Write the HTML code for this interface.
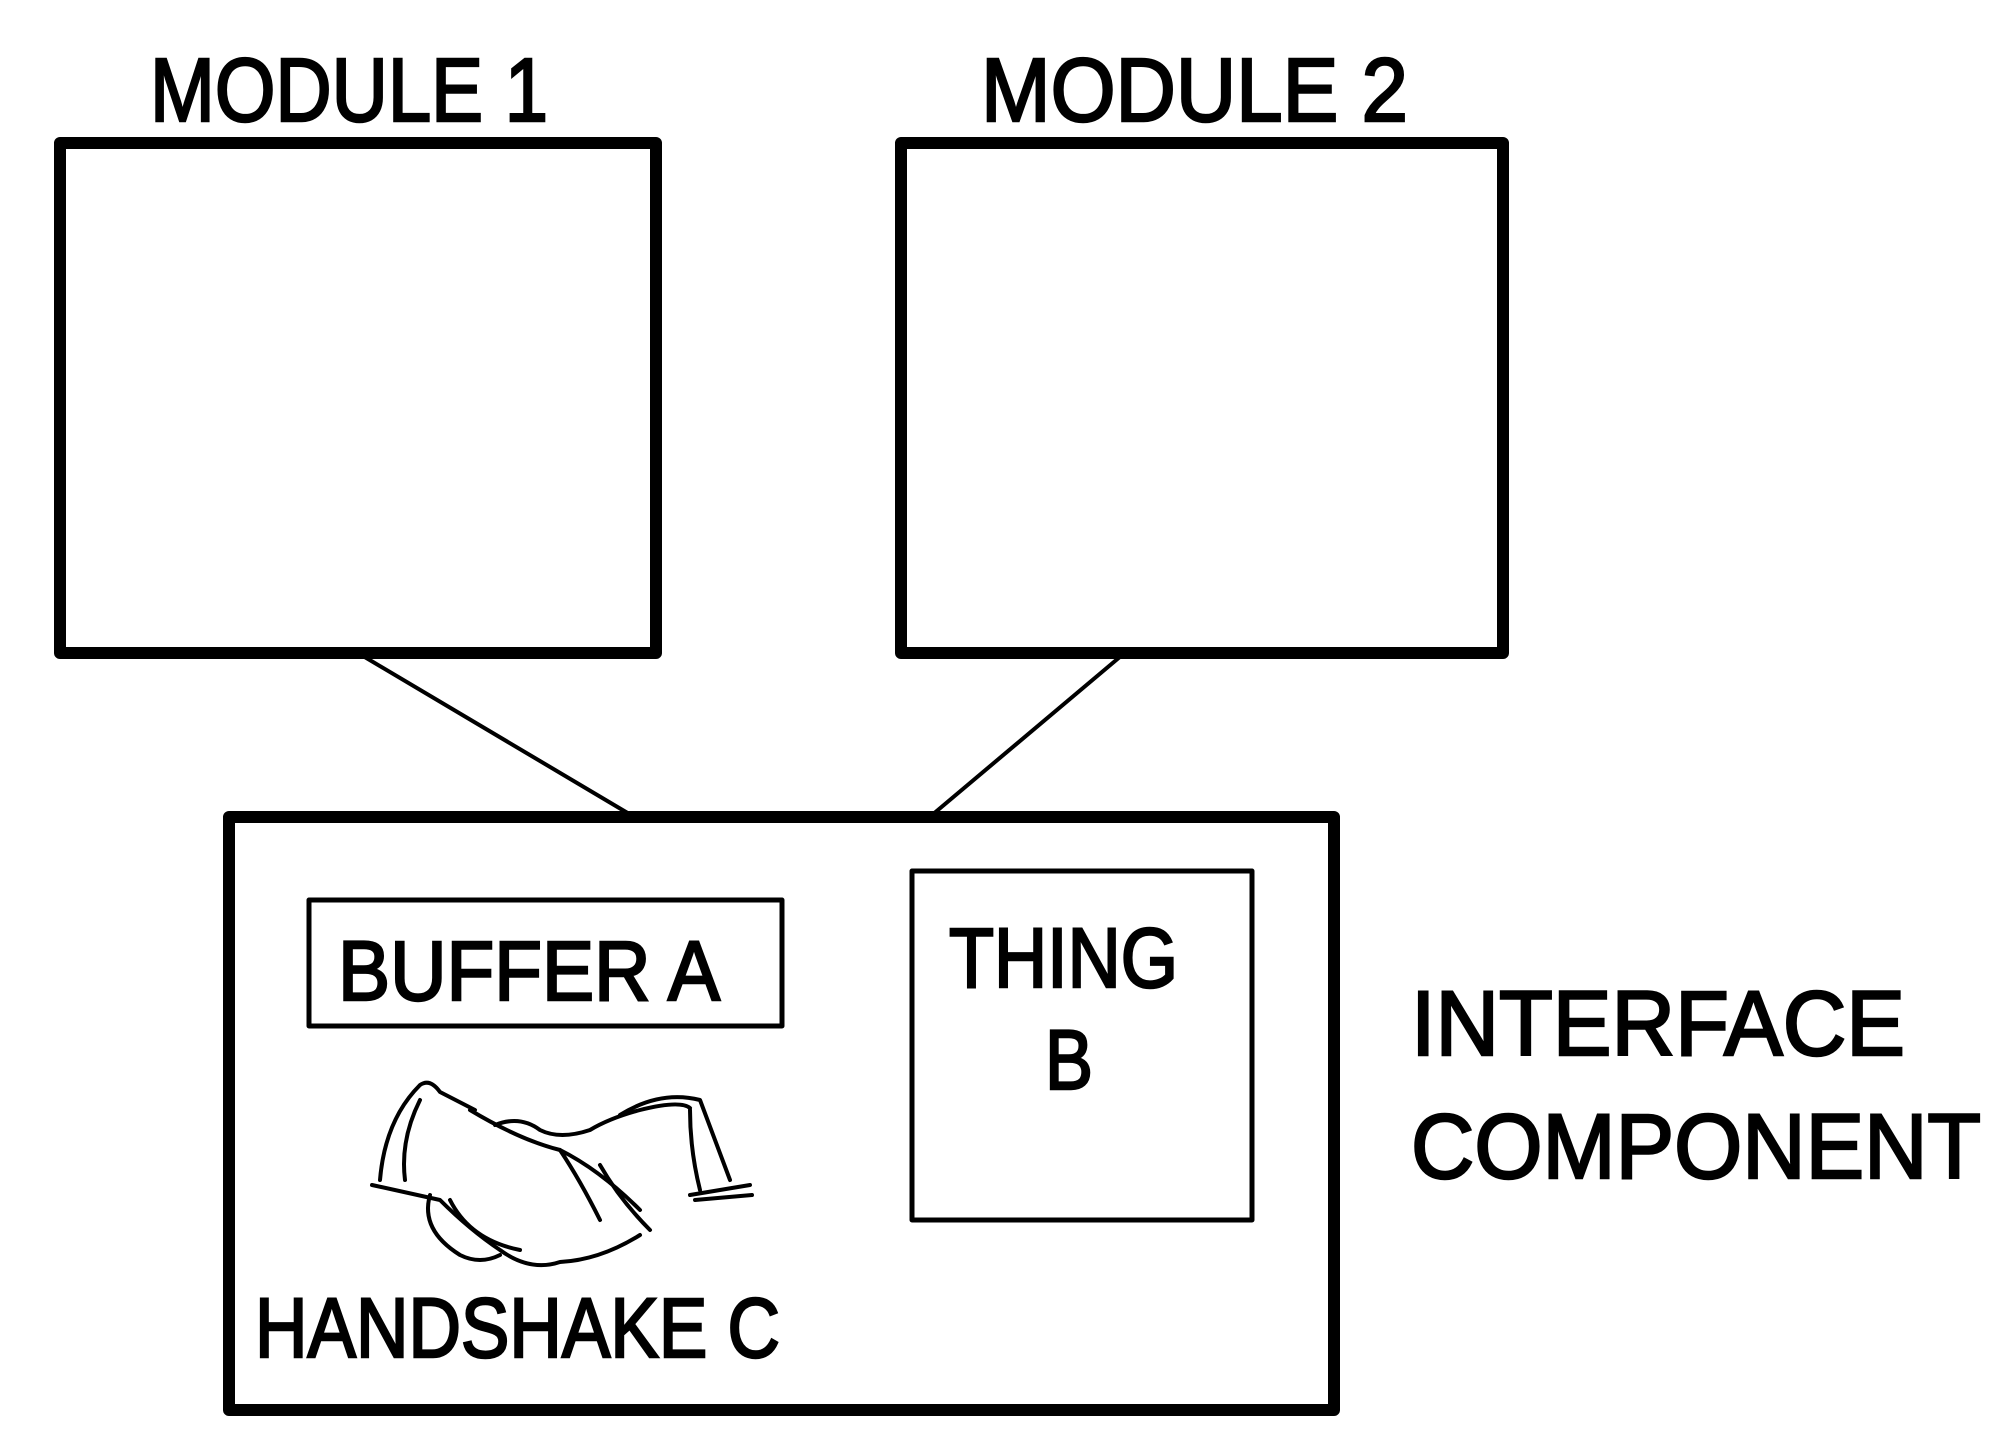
<!DOCTYPE html>
<html><head><meta charset="utf-8"><style>
html,body{margin:0;padding:0;background:#fff}
svg{display:block}
text{font-family:"Liberation Sans",sans-serif;fill:#000;stroke:#000;stroke-width:2.5}
</style></head><body>
<svg width="1997" height="1438" viewBox="0 0 1997 1438" xmlns="http://www.w3.org/2000/svg">
<g fill="none" stroke="#000" stroke-linejoin="round" stroke-linecap="round">
<rect x="60" y="143" width="596" height="510" stroke-width="12"/>
<rect x="901" y="143" width="602" height="510" stroke-width="12"/>
<rect x="229" y="817" width="1105" height="593" stroke-width="12"/>
<rect x="309" y="900" width="473" height="126" stroke-width="5"/>
<rect x="912" y="871" width="340" height="349" stroke-width="5"/>
<line x1="363" y1="656" x2="631" y2="815" stroke-width="4"/>
<line x1="1121" y1="656" x2="932" y2="815" stroke-width="4"/>
<g stroke-width="4">
<path d="M380 1180 Q385 1120 420 1085 Q430 1078 440 1092 L475 1110"/>
<path d="M372 1185 L440 1200 Q470 1230 500 1250 Q530 1272 560 1262 Q600 1260 640 1235"/>
<path d="M420 1100 Q400 1140 405 1180"/>
<path d="M470 1110 Q520 1140 560 1150 Q600 1170 640 1210"/>
<path d="M495 1125 Q520 1115 540 1130 Q560 1140 590 1130 Q610 1118 640 1110 Q680 1100 690 1108"/>
<path d="M620 1115 Q660 1090 700 1100 L730 1180"/>
<path d="M690 1110 Q690 1150 700 1190"/>
<path d="M690 1195 L750 1185 M695 1200 L752 1195"/>
<path d="M430 1195 Q420 1230 460 1255 Q480 1265 500 1255"/>
<path d="M450 1200 Q470 1240 520 1250"/>
<path d="M600 1165 Q620 1200 650 1230"/>
<path d="M560 1150 Q580 1180 600 1220"/>
</g>
</g>
<g font-size="90">
<text x="150" y="121" textLength="398" lengthAdjust="spacingAndGlyphs">MODULE 1</text>
<text x="981" y="121" textLength="427" lengthAdjust="spacingAndGlyphs">MODULE 2</text>
</g>
<g font-size="92">
<text x="1411" y="1055" textLength="494" lengthAdjust="spacingAndGlyphs">INTERFACE</text>
<text x="1411" y="1178" textLength="570" lengthAdjust="spacingAndGlyphs">COMPONENT</text>
</g>
<g font-size="84">
<text x="338" y="1000" textLength="382" lengthAdjust="spacingAndGlyphs">BUFFER A</text>
<text x="949" y="987" textLength="229" lengthAdjust="spacingAndGlyphs">THING</text>
<text x="1045" y="1089" textLength="48" lengthAdjust="spacingAndGlyphs">B</text>
<text x="255" y="1357" textLength="525" lengthAdjust="spacingAndGlyphs">HANDSHAKE C</text>
</g>
</svg>
</body></html>
